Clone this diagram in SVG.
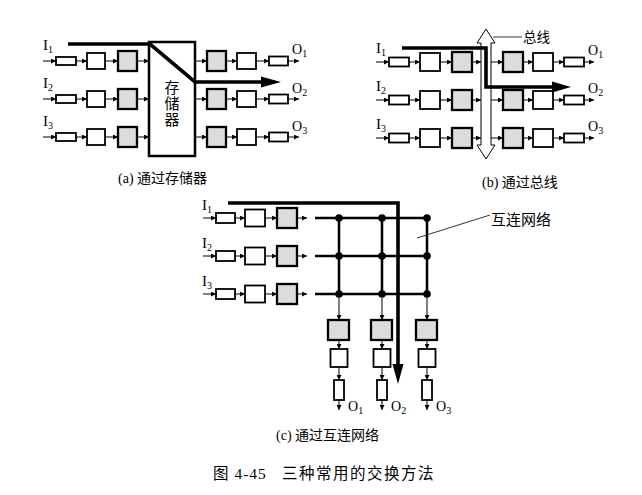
<svg xmlns="http://www.w3.org/2000/svg" width="642" height="495" viewBox="0 0 642 495">
<defs>
<marker id="ah" viewBox="0 0 6 6" refX="6" refY="3" markerWidth="5" markerHeight="5" markerUnits="userSpaceOnUse" orient="auto"><path d="M0,0 L6,3 L0,6 z" fill="#000"/></marker>
<style>
.s{fill:#fff;stroke:#000;stroke-width:1.8}
.g{fill:#dcdcdc;stroke:#000;stroke-width:2.3}
.a{stroke:#000;stroke-width:1;fill:none;marker-end:url(#ah)}
.k{fill:none;stroke:#000;stroke-width:3.6}
.gr{stroke:#000;stroke-width:2.5;fill:none}
.t{font-family:"Liberation Serif","Noto Sans CJK SC",serif;font-size:14px;fill:#000}
.i{font-family:"Liberation Serif",serif;font-size:15px;fill:#000}
.o{font-family:"Liberation Serif",serif;font-size:14px;fill:#000}
.c{font-family:"Liberation Serif","Noto Sans CJK SC",sans-serif;fill:#000}
.sub{font-size:10px}
</style>
</defs>
<rect width="642" height="495" fill="#fff"/>

<!-- Panel (a) -->
<g id="a-in1"><rect x="56" y="57" width="20" height="8" class="s"/><rect x="87" y="53" width="18" height="16" class="s"/><rect x="118" y="51" width="19" height="20" class="g"/></g>
<g id="a-in2"><rect x="56" y="95" width="20" height="8" class="s"/><rect x="87" y="91" width="18" height="16" class="s"/><rect x="118" y="89" width="19" height="20" class="g"/></g>
<g id="a-in3"><rect x="56" y="133" width="20" height="8" class="s"/><rect x="87" y="129" width="18" height="16" class="s"/><rect x="118" y="127" width="19" height="20" class="g"/></g>
<g id="a-memory"><rect x="149" y="42" width="46" height="114" fill="#fff" stroke="#000" stroke-width="2.5"/>
<text x="172" y="93" class="c" font-size="15" text-anchor="middle">存</text>
<text x="172" y="109" class="c" font-size="15" text-anchor="middle">储</text>
<text x="172" y="125" class="c" font-size="15" text-anchor="middle">器</text></g>
<g id="a-out1"><rect x="207" y="51" width="19" height="20" class="g"/><rect x="237" y="53" width="19" height="16" class="s"/><rect x="269" y="56.5" width="19" height="9" class="s"/></g>
<g id="a-out2"><rect x="207" y="89" width="19" height="20" class="g"/><rect x="237" y="91" width="19" height="16" class="s"/><rect x="269" y="94.5" width="19" height="9" class="s"/></g>
<g id="a-out3"><rect x="207" y="127" width="19" height="20" class="g"/><rect x="237" y="129" width="19" height="16" class="s"/><rect x="269" y="132.5" width="19" height="9" class="s"/></g>
<g id="a-labels">
<text x="43" y="50" class="i">I<tspan class="sub" dy="3">1</tspan></text>
<text x="43" y="88" class="i">I<tspan class="sub" dy="3">2</tspan></text>
<text x="43" y="126" class="i">I<tspan class="sub" dy="3">3</tspan></text>
<text x="292" y="54" class="o">O<tspan class="sub" dy="3">1</tspan></text>
<text x="292" y="93" class="o">O<tspan class="sub" dy="3">2</tspan></text>
<text x="292" y="131" class="o">O<tspan class="sub" dy="3">3</tspan></text>
<text x="118" y="183" class="t">(a) 通过存储器</text>
</g>

<!-- Panel (b) -->
<g id="b-in1"><rect x="389" y="57.5" width="20" height="9" class="s"/><rect x="420" y="53" width="20" height="18" class="s"/><rect x="452" y="52" width="20" height="20" class="g"/></g>
<g id="b-in2"><rect x="389" y="95.5" width="20" height="9" class="s"/><rect x="420" y="91" width="20" height="18" class="s"/><rect x="452" y="90" width="20" height="20" class="g"/></g>
<g id="b-in3"><rect x="389" y="133.5" width="20" height="9" class="s"/><rect x="420" y="129" width="20" height="18" class="s"/><rect x="452" y="128" width="20" height="20" class="g"/></g>
<g id="b-bus"><path d="M486,29 L495,43 L491,43 L491,145 L495,145 L486,159 L477,145 L481,145 L481,43 L477,43 Z" fill="#fff" stroke="#000" stroke-width="1"/>
<line x1="493" y1="37" x2="522" y2="37" stroke="#000" stroke-width="0.8"/>
<text x="523" y="42" class="c" font-size="13.5">总线</text></g>
<g id="b-out1"><rect x="503" y="52" width="20" height="20" class="g"/><rect x="533" y="53" width="20" height="18" class="s"/><rect x="564" y="57.5" width="20" height="9" class="s"/></g>
<g id="b-out2"><rect x="503" y="90" width="20" height="20" class="g"/><rect x="533" y="91" width="20" height="18" class="s"/><rect x="564" y="95.5" width="20" height="9" class="s"/></g>
<g id="b-out3"><rect x="503" y="128" width="20" height="20" class="g"/><rect x="533" y="129" width="20" height="18" class="s"/><rect x="564" y="133.5" width="20" height="9" class="s"/></g>
<g id="b-labels">
<text x="376" y="53" class="i">I<tspan class="sub" dy="3">1</tspan></text>
<text x="376" y="91" class="i">I<tspan class="sub" dy="3">2</tspan></text>
<text x="376" y="129" class="i">I<tspan class="sub" dy="3">3</tspan></text>
<text x="588" y="55" class="o">O<tspan class="sub" dy="3">1</tspan></text>
<text x="588" y="93" class="o">O<tspan class="sub" dy="3">2</tspan></text>
<text x="588" y="131" class="o">O<tspan class="sub" dy="3">3</tspan></text>
<text x="482" y="187" class="t">(b) 通过总线</text>
</g>

<!-- Panel (c) -->
<g id="c-in1"><rect x="216" y="213" width="19" height="10" class="s"/><rect x="245" y="209.5" width="20" height="17" class="s"/><rect x="277" y="208" width="20" height="20" class="g"/></g>
<g id="c-in2"><rect x="216" y="251" width="19" height="10" class="s"/><rect x="245" y="247.5" width="20" height="17" class="s"/><rect x="277" y="246" width="20" height="20" class="g"/></g>
<g id="c-in3"><rect x="216" y="289" width="19" height="10" class="s"/><rect x="245" y="285.5" width="20" height="17" class="s"/><rect x="277" y="284" width="20" height="20" class="g"/></g>
<g id="c-network">
<path d="M315,218 H427 M315,256 H427 M315,294 H427 M339,218 V294 M382,218 V294 M427,218 V294" class="gr"/>
<g fill="#000">
<circle cx="339" cy="218" r="3.8"/><circle cx="382" cy="218" r="3.8"/><circle cx="427" cy="218" r="3.8"/>
<circle cx="339" cy="256" r="3.8"/><circle cx="382" cy="256" r="3.8"/><circle cx="427" cy="256" r="3.8"/>
<circle cx="339" cy="294" r="3.8"/><circle cx="382" cy="294" r="3.8"/><circle cx="427" cy="294" r="3.8"/>
</g>
<line x1="417" y1="238" x2="490" y2="215" stroke="#000" stroke-width="0.8"/>
<text x="491" y="225" class="c" font-size="15">互连网络</text>
</g>
<g id="c-out1"><rect x="328" y="320" width="21" height="20" class="g"/><rect x="330.5" y="349" width="17" height="18" class="s"/><rect x="334" y="380" width="10" height="20" class="s"/></g>
<g id="c-out2"><rect x="371" y="320" width="21" height="20" class="g"/><rect x="373.5" y="349" width="17" height="18" class="s"/><rect x="377" y="380" width="10" height="20" class="s"/></g>
<g id="c-out3"><rect x="416" y="320" width="21" height="20" class="g"/><rect x="418.5" y="349" width="17" height="18" class="s"/><rect x="422" y="380" width="10" height="20" class="s"/></g>
<g id="c-labels">
<text x="202" y="210" class="i">I<tspan class="sub" dy="3">1</tspan></text>
<text x="202" y="248" class="i">I<tspan class="sub" dy="3">2</tspan></text>
<text x="202" y="286" class="i">I<tspan class="sub" dy="3">3</tspan></text>
<text x="348" y="411" class="o">O<tspan class="sub" dy="3">1</tspan></text>
<text x="391" y="411" class="o">O<tspan class="sub" dy="3">2</tspan></text>
<text x="436" y="411" class="o">O<tspan class="sub" dy="3">3</tspan></text>
<text x="276" y="440" class="t">(c) 通过互连网络</text>
</g>

<g id="caption">
<text x="213" y="479" class="c" font-size="15.5" letter-spacing="1">图 4-45</text>
<text x="282" y="479" class="c" font-size="15.5" letter-spacing="1.5">三种常用的交换方法</text>
</g>

<!-- Connectors -->
<g id="connectors">
<path class="a" d="M43,61 H56"/><path class="a" d="M76,61 H87"/><path class="a" d="M105,61 H118"/><path class="a" d="M137,61 H149"/>
<path class="a" d="M43,99 H56"/><path class="a" d="M76,99 H87"/><path class="a" d="M105,99 H118"/><path class="a" d="M137,99 H149"/>
<path class="a" d="M43,137 H56"/><path class="a" d="M76,137 H87"/><path class="a" d="M105,137 H118"/><path class="a" d="M137,137 H149"/>
<path class="a" d="M195,61 H207"/><path class="a" d="M226,61 H237"/><path class="a" d="M256,61 H269"/><path class="a" d="M288,61 H299"/>
<path class="a" d="M195,99 H207"/><path class="a" d="M226,99 H237"/><path class="a" d="M256,99 H269"/><path class="a" d="M288,99 H299"/>
<path class="a" d="M195,137 H207"/><path class="a" d="M226,137 H237"/><path class="a" d="M256,137 H269"/><path class="a" d="M288,137 H299"/>
<path class="k" d="M68,44 H150 L195,82 H263"/>
<polygon points="261,76.5 281,82 261,87.5" fill="#000"/>
<path class="a" d="M376,62 H389"/><path class="a" d="M409,62 H420"/><path class="a" d="M440,62 H452"/><path class="a" d="M472,62 H481"/>
<path class="a" d="M376,100 H389"/><path class="a" d="M409,100 H420"/><path class="a" d="M440,100 H452"/><path class="a" d="M472,100 H481"/>
<path class="a" d="M376,138 H389"/><path class="a" d="M409,138 H420"/><path class="a" d="M440,138 H452"/><path class="a" d="M472,138 H481"/>
<path class="a" d="M491,62 H503"/><path class="a" d="M523,62 H533"/><path class="a" d="M553,62 H564"/><path class="a" d="M584,62 H594"/>
<path class="a" d="M491,100 H503"/><path class="a" d="M523,100 H533"/><path class="a" d="M553,100 H564"/><path class="a" d="M584,100 H594"/>
<path class="a" d="M491,138 H503"/><path class="a" d="M523,138 H533"/><path class="a" d="M553,138 H564"/><path class="a" d="M584,138 H594"/>
<path class="k" d="M402,48 H486 V87 H554"/>
<polygon points="552,81.5 571,87 552,92.5" fill="#000"/>
<path class="a" d="M203,218 H216"/><path class="a" d="M235,218 H245"/><path class="a" d="M265,218 H277"/><path class="a" d="M297,218 H307"/>
<path class="a" d="M203,256 H216"/><path class="a" d="M235,256 H245"/><path class="a" d="M265,256 H277"/><path class="a" d="M297,256 H307"/>
<path class="a" d="M203,294 H216"/><path class="a" d="M235,294 H245"/><path class="a" d="M265,294 H277"/><path class="a" d="M297,294 H307"/>
<path class="a" d="M339,298 V320"/><path class="a" d="M339,340 V349"/><path class="a" d="M339,367 V380"/><path class="a" d="M339,400 V410"/>
<path class="a" d="M382,298 V320"/><path class="a" d="M382,340 V349"/><path class="a" d="M382,367 V380"/><path class="a" d="M382,400 V410"/>
<path class="a" d="M427,298 V320"/><path class="a" d="M427,340 V349"/><path class="a" d="M427,367 V380"/><path class="a" d="M427,400 V410"/>
<path class="k" d="M228,203 H398 V366"/>
<polygon points="392.5,364 403.5,364 398,384" fill="#000"/>
</g>
</svg>
